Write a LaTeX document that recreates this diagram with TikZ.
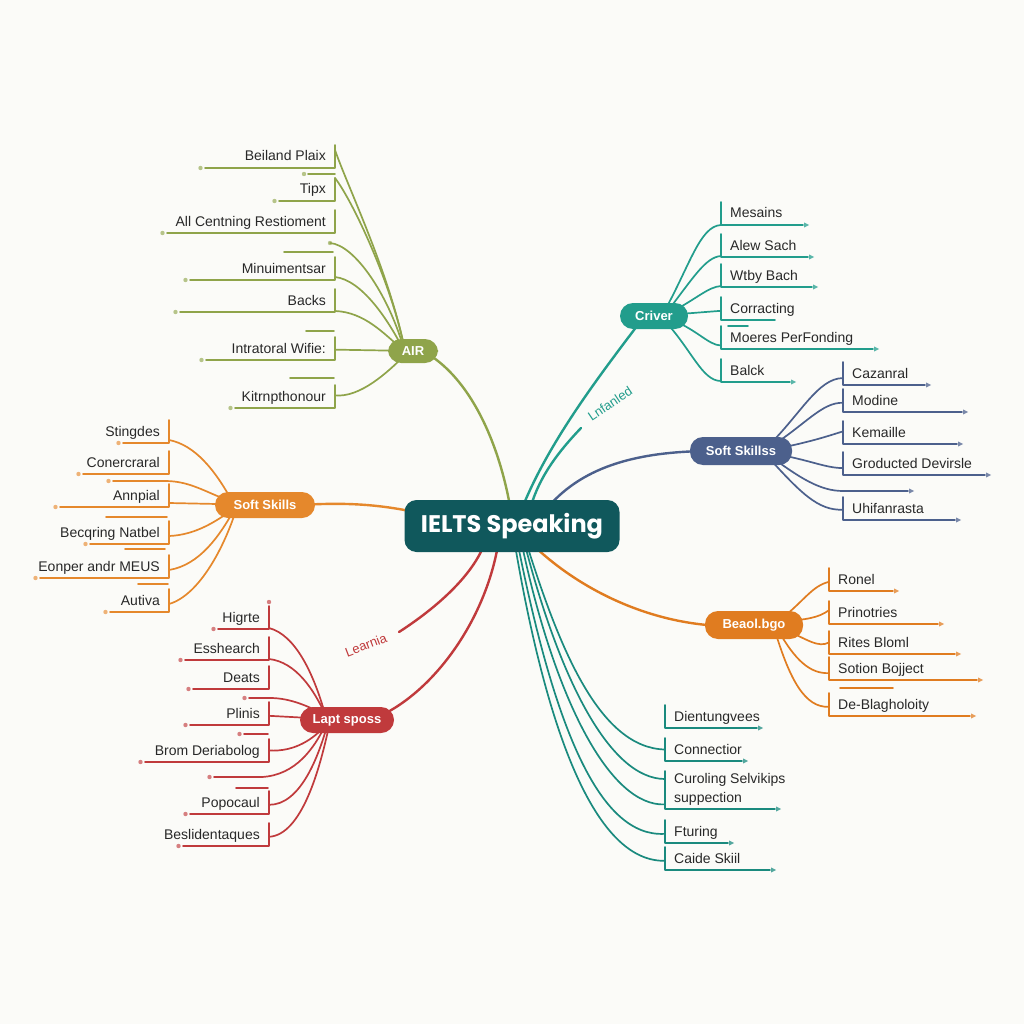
\documentclass[tikz,border=0pt]{standalone}
\usepackage{fontspec}
\setmainfont{Liberation Sans}
\newfontfamily\ctrfont{Poppins}
\usetikzlibrary{calc}
\definecolor{bgC}{RGB}{251,251,248}
\definecolor{txtC}{RGB}{40,40,40}
\definecolor{olv}{RGB}{143,164,74}
\definecolor{orL}{RGB}{229,136,44}
\definecolor{rdC}{RGB}{192,58,60}
\definecolor{tlC}{RGB}{34,157,140}
\definecolor{blC}{RGB}{76,96,140}
\definecolor{orR}{RGB}{224,124,32}
\definecolor{tlD}{RGB}{26,138,126}
\definecolor{ctrC}{RGB}{16,88,92}
\pgfdeclarelayer{back}\pgfdeclarelayer{bg}\pgfsetlayers{back,bg,main}
\tikzset{
 leaftxt/.style={font=\fontsize{14}{16}\selectfont, text=txtC, inner sep=0pt, text height=10pt, text depth=3pt},
 leafln/.style={line width=1.6pt, line cap=round, line join=round},
 fanln/.style={line width=1.7pt, line cap=round},
 mainln/.style={line width=2.4pt, line cap=round},
 hub/.style={fill=#1, text=white, rounded corners=13pt, minimum height=26pt, inner xsep=6pt, font=\fontsize{13}{15}\selectfont\bfseries},
 ctr/.style={fill=ctrC, text=white, rounded corners=12pt, minimum width=215pt, minimum height=52pt, font=\ctrfont\fontsize{24}{28}\selectfont\bfseries},
 lbl/.style={font=\fontsize{13}{15}\selectfont, inner sep=0pt},
}
% left leaf: name, colour, bar x, text y, underline end x, text
\newcommand{\leafL}[6]{%
  \node[leaftxt,anchor=east] (#1) at (#3-9,#4+1.5) {#6};
  \coordinate (#1t) at (#3,#4-11);
  \coordinate (#1b) at (#3,#4+12);
  \coordinate (#1e) at (#5,#4+12);
  \begin{pgfonlayer}{bg}
  \draw[leafln,#2] (#1t) -- (#1b) -- (#1e);
  \fill[#2!65] ($(#1e)+(-4.5,0)$) circle (2.2);
  \end{pgfonlayer}}
% right leaf without end mark
\newcommand{\leafRn}[6]{%
  \node[leaftxt,anchor=west] (#1) at (#3+9,#4+1.5) {#6};
  \coordinate (#1t) at (#3,#4-11);
  \coordinate (#1b) at (#3,#4+12);
  \coordinate (#1e) at (#5,#4+12);
  \begin{pgfonlayer}{bg}
  \draw[leafln,#2] (#1t) -- (#1b) -- (#1e);
  \end{pgfonlayer}}
\newcommand{\leafR}[6]{\leafRn{#1}{#2}{#3}{#4}{#5}{#6}%
  \begin{pgfonlayer}{bg}\fill[#2!75] ($(#1e)+(6,0)$) -- ++(-5,-2.6) -- ++(0,5.2) -- cycle;\end{pgfonlayer}}
\begin{document}
\begin{tikzpicture}[x=1pt,y=-1pt]
\useasboundingbox (0,0) rectangle (1024,1024);
\begin{pgfonlayer}{back}\fill[bgC] (0,0) rectangle (1024,1024);\end{pgfonlayer}

% ---------- hubs ----------
\node[ctr] (C) at (512,526) {IELTS Speaking};
\node[hub=olv, minimum width=50pt, minimum height=24pt] (AIR) at (413,351) {AIR};
\node[hub=orL, minimum width=100pt] (SSL) at (265,505) {Soft Skills};
\node[hub=rdC, minimum width=94pt] (LS) at (347,720) {Lapt sposs};
\node[hub=tlC, minimum width=68pt] (CR) at (654,316) {Criver};
\node[hub=blC, minimum width=102pt, minimum height=28pt] (SSB) at (741,451) {Soft Skillss};
\node[hub=orR, minimum width=98pt, minimum height=28pt] (BG) at (754,625) {Beaol.bgo};
\node[lbl, text=rdC, rotate=21] (lrn) at (366,645) {Learnia};
\node[lbl, text=tlC, rotate=34] (lnf) at (610,404) {Lnfanled};
\coordinate (lrnE) at (399,632);
\coordinate (lnfE) at (581,428);

% ---------- AIR leaves ----------
\leafL{a1}{olv}{335}{156}{205}{Beiland Plaix}
\leafL{a2}{olv}{335}{189}{279}{Tipx}
\leafL{a3}{olv}{335}{221}{167}{All Centning Restioment}
\leafL{a4}{olv}{335}{268}{190}{Minuimentsar}
\leafL{a5}{olv}{335}{300}{180}{Backs}
\leafL{a6}{olv}{335}{348}{206}{Intratoral Wifie:}
\leafL{a7}{olv}{335}{396}{235}{Kitrnpthonour}
\coordinate (ad) at (330,243);
% ---------- left Soft Skills leaves ----------
\leafL{s1}{orL}{169}{431}{123}{Stingdes}
\leafL{s2}{orL}{169}{462}{83}{Conercraral}
\leafL{s3}{orL}{169}{495}{60}{Annpial}
\leafL{s4}{orL}{169}{532}{90}{Becqring Natbel}
\leafL{s5}{orL}{169}{566}{40}{Eonper andr MEUS}
\leafL{s6}{orL}{169}{600}{110}{Autiva}
\coordinate (sl) at (113,481);
% ---------- Lapt sposs leaves ----------
\leafL{r1}{rdC}{269}{617}{218}{Higrte}
\leafL{r2}{rdC}{269}{648}{185}{Esshearch}
\leafL{r3}{rdC}{269}{677}{193}{Deats}
\leafL{r4}{rdC}{269}{713}{190}{Plinis}
\leafL{r5}{rdC}{269}{750}{145}{Brom Deriabolog}
\leafL{r6}{rdC}{269}{802}{190}{Popocaul}
\leafL{r7}{rdC}{269}{834}{183}{Beslidentaques}
\coordinate (rl1) at (249,698);
\coordinate (rl2) at (214,777);
% ---------- Criver leaves ----------
\leafR{c1}{tlC}{721}{213}{803}{Mesains}
\leafR{c2}{tlC}{721}{245}{808}{Alew Sach}
\leafR{c3}{tlC}{721}{275}{812}{Wtby Bach}
\leafRn{c4}{tlC}{721}{308}{775}{Corracting}
\leafR{c5}{tlC}{721}{337}{873}{Moeres PerFonding}
\leafR{c6}{tlC}{721}{370}{790}{Balck}
% ---------- Soft Skillss leaves ----------
\leafR{b1}{blC}{843}{373}{925}{Cazanral}
\leafR{b2}{blC}{843}{400}{962}{Modine}
\leafR{b3}{blC}{843}{432}{957}{Kemaille}
\leafR{b4}{blC}{843}{463}{985}{Groducted Devirsle}
\leafR{b5}{blC}{843}{508}{955}{Uhifanrasta}
\coordinate (bl) at (908,491);
% ---------- Beaol.bgo leaves ----------
\leafR{o1}{orR}{829}{579}{893}{Ronel}
\leafR{o2}{orR}{829}{612}{938}{Prinotries}
\leafR{o3}{orR}{829}{642}{955}{Rites Bloml}
\leafR{o4}{orR}{829}{668}{977}{Sotion Bojject}
\leafR{o5}{orR}{829}{704}{970}{De-Blagholoity}
% ---------- bottom teal leaves ----------
\leafR{t1}{tlD}{665}{716}{757}{Dientungvees}
\leafR{t2}{tlD}{665}{749}{742}{Connectior}
\node[leaftxt,anchor=west] (t3) at (674,779.5) {Curoling Selvikips};
\leafR{t4}{tlD}{665}{797}{775}{suppection}
\leafR{t5}{tlD}{665}{831}{728}{Fturing}
\leafR{t6}{tlD}{665}{858}{770}{Caide Skiil}

\begin{pgfonlayer}{bg}
% ---- stubs ----
\draw[leafln,olv] (308,174) -- (335,174);
\fill[olv!65] (304,174) circle (2.2);
\draw[leafln,olv] (284,252) -- (333,252);
\draw[leafln,olv] (306,331) -- (334,331);
\draw[leafln,olv] (290,378) -- (334,378);
\fill[olv!65] (ad) circle (2.2);
\draw[leafln,orL] (sl) -- (165,481);
\fill[orL!65] ($(sl)+(-4.5,0)$) circle (2.2);
\draw[leafln,orL] (106,517) -- (167,517);
\draw[leafln,orL] (125,549) -- (165,549);
\draw[leafln,orL] (138,584) -- (168,584);
\fill[rdC!65] (269,602) circle (2.2);
\draw[leafln,rdC] (rl1) -- (270,698);
\fill[rdC!65] ($(rl1)+(-4.5,0)$) circle (2.2);
\draw[leafln,rdC] (244,734) -- (268,734);
\fill[rdC!65] (239.5,734) circle (2.2);
\draw[leafln,rdC] (rl2) -- (262,777);
\fill[rdC!65] ($(rl2)+(-4.5,0)$) circle (2.2);
\draw[leafln,rdC] (236,788) -- (268,788);
\draw[leafln,tlC] (728,326) -- (748,326);
\draw[leafln,blC] (843,491) -- (bl);
\fill[blC!75] ($(bl)+(6,0)$) -- ++(-5,-2.6) -- ++(0,5.2) -- cycle;
\draw[leafln,orR] (840,688) -- (893,688);
\draw[leafln,tlD] (665,771) -- (665,786);

% ---- AIR fan ----
\draw[fanln,olv] ($(a1t)+(0,5)$) .. controls (347,185) and (388,270) .. ($(AIR.center)+(-9,-5)$);
\draw[fanln,olv] (a2t) .. controls (352,200) and (390,280) .. ($(AIR.center)+(-9,-5)$);
\draw[fanln,olv] (ad) .. controls (355,245) and (388,295) .. ($(AIR.center)+(-10,-5)$);
\draw[fanln,olv] ($(a4b)+(0,-3)$) .. controls (362,280) and (388,320) .. ($(AIR.center)+(-11,-4)$);
\draw[fanln,olv] ($(a5b)+(0,-1)$) .. controls (365,312) and (385,335) .. ($(AIR.center)+(-12,-3)$);
\draw[fanln,olv] ($(a6t)!0.55!(a6b)$) -- (AIR.center);
\draw[fanln,olv] ($(a7t)!0.45!(a7b)$) .. controls (360,398) and (388,372) .. ($(AIR.center)+(-8,4)$);
% ---- left Soft Skills fan ----
\draw[fanln,orL] ($(s1b)+(0,-3)$) .. controls (195,445) and (215,470) .. ($(SSL.center)+(-33,-4)$);
\draw[fanln,orL] (165,481) .. controls (190,481) and (205,492) .. ($(SSL.center)+(-35,-4)$);
\draw[fanln,orL] ($(s3b)+(0,-4)$) -- (SSL.center);
\draw[fanln,orL] ($(s4b)+(0,-8)$) .. controls (195,535) and (215,522) .. ($(SSL.center)+(-33,5)$);
\draw[fanln,orL] ($(s5b)+(0,-8)$) .. controls (200,565) and (220,535) .. ($(SSL.center)+(-31,5)$);
\draw[fanln,orL] ($(s6b)+(0,-8)$) .. controls (200,595) and (225,545) .. ($(SSL.center)+(-29,5)$);
% ---- Lapt sposs fan ----
\draw[fanln,rdC] ($(r1b)+(0,-1)$) .. controls (296,635) and (314,675) .. ($(LS.center)+(-22,-6)$);
\draw[fanln,rdC] ($(r2b)+(0,-1)$) .. controls (296,662) and (314,690) .. ($(LS.center)+(-22,-6)$);
\draw[fanln,rdC] (270,698) .. controls (290,698) and (308,706) .. ($(LS.center)+(-22,-5)$);
\draw[fanln,rdC] ($(r4t)!0.6!(r4b)$) -- (LS.center);
\draw[fanln,rdC] ($(r5t)!0.5!(r5b)$) .. controls (296,752) and (314,738) .. ($(LS.center)+(-22,6)$);
\draw[fanln,rdC] (262,777) .. controls (296,775) and (314,748) .. ($(LS.center)+(-22,6)$);
\draw[fanln,rdC] ($(r6t)!0.6!(r6b)$) .. controls (300,805) and (318,758) .. ($(LS.center)+(-20,6)$);
\draw[fanln,rdC] ($(r7t)!0.6!(r7b)$) .. controls (302,835) and (320,768) .. ($(LS.center)+(-18,6)$);
% ---- Criver fan ----
\draw[fanln,tlC] ($(CR.center)+(10,-4)$) .. controls (690,265) and (700,226) .. (c1b);
\draw[fanln,tlC] ($(CR.center)+(12,-3)$) .. controls (692,280) and (705,257) .. ($(c2b)+(0,-1)$);
\draw[fanln,tlC] ($(CR.center)+(14,-2)$) .. controls (698,298) and (708,287) .. ($(c3b)+(0,-1)$);
\draw[fanln,tlC] (CR.center) -- ($(c4t)!0.6!(c4b)$);
\draw[fanln,tlC] ($(CR.center)+(14,2)$) .. controls (698,330) and (708,345) .. ($(c5t)!0.85!(c5b)$);
\draw[fanln,tlC] ($(CR.center)+(10,4)$) .. controls (692,350) and (702,381) .. ($(c6b)+(0,-1)$);
% ---- Soft Skillss fan ----
\draw[fanln,blC] ($(SSB.center)+(27,-5)$) .. controls (800,415) and (818,378) .. ($(b1t)!0.7!(b1b)$);
\draw[fanln,blC] ($(SSB.center)+(29,-4)$) .. controls (805,425) and (822,402) .. ($(b2t)!0.6!(b2b)$);
\draw[fanln,blC] ($(SSB.center)+(34,-2)$) .. controls (810,442) and (825,437) .. ($(b3t)!0.45!(b3b)$);
\draw[fanln,blC] ($(SSB.center)+(34,3)$) .. controls (810,460) and (825,468) .. ($(b4t)!0.7!(b4b)$);
\draw[fanln,blC] ($(SSB.center)+(29,5)$) .. controls (800,478) and (820,491) .. (843,491);
\draw[fanln,blC] ($(SSB.center)+(27,6)$) .. controls (800,492) and (818,511) .. ($(b5t)!0.55!(b5b)$);
% ---- Beaol.bgo fan ----
\draw[fanln,orR] ($(BG.center)+(26,-5)$) .. controls (805,600) and (812,586) .. ($(o1t)!0.6!(o1b)$);
\draw[fanln,orR] ($(BG.center)+(28,-3)$) .. controls (808,619) and (818,618) .. ($(o2t)!0.4!(o2b)$);
\draw[fanln,orR] ($(BG.center)+(28,3)$) .. controls (808,640) and (818,648) .. ($(o3t)!0.5!(o3b)$);
\draw[fanln,orR] ($(BG.center)+(24,5)$) .. controls (795,660) and (810,674) .. ($(o4t)!0.7!(o4b)$);
\draw[fanln,orR] ($(BG.center)+(21,6)$) .. controls (790,680) and (805,708) .. ($(o5t)!0.6!(o5b)$);
% ---- bottom teal fan ----
\draw[fanln,tlD] (527,545) .. controls (560,650) and (600,748) .. ($(t2t)!0.5!(t2b)$);
\draw[fanln,tlD] (525,545) .. controls (560,680) and (610,779) .. (665,779);
\draw[fanln,tlD] (522,545) .. controls (555,700) and (610,807) .. ($(t4t)!0.8!(t4b)$);
\draw[fanln,tlD] (518,545) .. controls (555,730) and (600,838) .. ($(t5t)!0.6!(t5b)$);
\draw[fanln,tlD] (515,545) .. controls (550,750) and (600,862) .. ($(t6t)!0.6!(t6b)$);

% ---- main connectors ----
\draw[mainln,olv] ($(AIR.center)+(15,3)$) .. controls (470,380) and (498,440) .. (510,506);
\draw[mainln,orL] ($(SSL.center)+(35,0)$) .. controls (350,502) and (380,505) .. (415,512);
\draw[mainln,rdC] ($(LS.center)+(33,-4)$) .. controls (435,690) and (485,620) .. (498,545);
\draw[mainln,rdC] (lrnE) .. controls (430,612) and (470,580) .. (484,545);
\draw[mainln,tlC] ($(CR.center)+(-14,6)$) .. controls (600,375) and (550,440) .. (523,506);
\draw[mainln,tlC] (lnfE) .. controls (560,450) and (540,475) .. (531,506);
\draw[mainln,blC] ($(SSB.center)+(-35,0)$) .. controls (640,452) and (585,465) .. (549,506);
\draw[mainln,orR] (533,545) .. controls (580,590) and (650,624) .. ($(BG.center)+(-30,1)$);
\end{pgfonlayer}
\end{tikzpicture}
\end{document}
